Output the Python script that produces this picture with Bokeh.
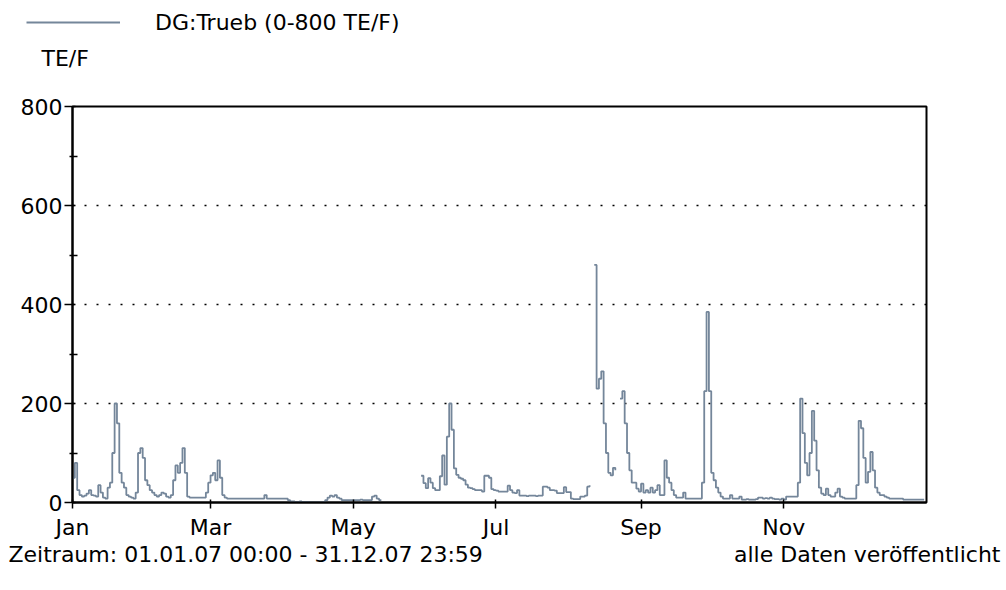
from bokeh.plotting import figure
from bokeh.layouts import column, row
from bokeh.models import FixedTicker, Legend, LegendItem, Label, Range1d, ColumnDataSource
from bokeh.embed import file_html
from bokeh.resources import INLINE

# ---- data: daily turbidity values (TE/F), None = no data ----
jan = [50, 80, 25, 15, 12, 14, 18, 25, 15, 14, 12, 35, 20, 10, 8, 30, 40, 100, 200, 160,
       60, 40, 30, 15, 12, 10, 8, 20, 100, 110, 90]
feb = [45, 35, 25, 20, 15, 12, 15, 20, 18, 12, 10, 15, 45, 75, 60, 80, 110, 60, 12, 10,
       10, 10, 10, 10, 10, 10, 20, 40]
mar = [55, 60, 45, 85, 50, 15, 10, 8, 8, 8, 8, 8, 8, 8, 8, 8, 8, 8, 8, 8,
       8, 8, 8, 15, 8, 8, 8, 8, 8, 8, 8]
apr = [8, 8, 5, 2, 2, 1, 1, 2, 1, 1, 1, 0, 0, 0, 0, 0, 0, 1, 5, 10,
       14, 12, 15, 10, 8, 5, 5, 5, 5, 5]
may = [5, 5, 5, 6, 5, 5, 5, 5, 12, 14, 8, 5, 5, None, None, None, None, None, None, None,
       None, None, None, None, None, None, None, None, None, 54, 39]
jun = [29, 49, 40, 29, 25, 25, 53, 95, 36, 133, 200, 147, 69, 56, 50, 48, 45, 36, 30, 29,
       27, 25, 25, 25, 22, 54, 54, 50, 27, 25]
jul = [24, 22, 22, 22, 22, 34, 25, 20, 19, 25, 14, 14, 14, 13, 14, 14, 14, 13, 14, 14,
       32, 32, 30, 25, 25, 24, 19, 19, 19, 31, 21]
aug = [21, 8, 7, 7, 7, 12, 12, 14, 32, 35, None, 480, 230, 250, 265, 160, 100, 60, 55, 70,
       65, None, 210, 225, 160, 100, 65, 40, 40, 28, 22]
sep = [38, 20, 25, 20, 30, 20, 25, 35, 15, 15, 85, 50, 40, 25, 15, 10, 10, 10, 20, 8,
       8, 8, 8, 8, 8, 8, 40, 225, 385, 225]
oct_ = [60, 45, 30, 20, 12, 8, 8, 8, 15, 8, 8, 8, 12, 6, 6, 7, 6, 6, 6, 7,
        10, 10, 8, 9, 8, 10, 8, 7, 7, 6, 8]
nov = [6, 12, 12, 12, 12, 12, 40, 210, 140, 80, 55, 100, 185, 125, 65, 30, 18, 15, 28, 15,
       12, 12, 20, 28, 12, 10, 8, 8, 8, 8]
dec = [8, 35, 165, 150, 90, 40, 62, 102, 65, 30, 20, 15, 15, 12, 10, 8, 8, 8, 8, 8,
       8, 6, 6, 6, 6, 6, 6, 6, 6, 6, 6]

month_days = [0, 59, 120, 181, 243, 304]          # day-of-year of tick months
month_labels = ["Jan", "Mar", "May", "Jul", "Sep", "Nov"]
y_ticks = [0, 200, 400, 600, 800]
y_minor = [100, 300, 500, 700]

series_label = "DG:Trueb (0-800 TE/F)"
unit_label = "TE/F"
period_text = "Zeitraum: 01.01.07 00:00 - 31.12.07 23:59"
status_text = "alle Daten veröffentlicht"

values = jan + feb + mar + apr + may + jun + jul + aug + sep + oct_ + nov + dec
days = list(range(len(values)))

# split into contiguous segments (gaps where no data)
segments = []
cur_x, cur_y = [], []
for d, v in zip(days, values):
    if v is None:
        if cur_x:
            segments.append((cur_x, cur_y))
        cur_x, cur_y = [], []
    else:
        cur_x.append(d)
        cur_y.append(v)
if cur_x:
    segments.append((cur_x, cur_y))

FONT = "DejaVu Sans"
FS = "22px"
LINE_COLOR = "#74869a"
W = 1006
HEAD_H = 90
FOOT_H = 50


def blank_figure(h):
    f = figure(width=W, height=h, x_range=Range1d(0, W), y_range=Range1d(h, 0),
               min_border=0, x_axis_type=None, y_axis_type=None,
               output_backend="svg", toolbar_location=None)
    f.outline_line_color = None
    f.grid.visible = False
    f.background_fill_color = "white"
    f.border_fill_color = "white"
    return f


# ---- header: legend key + unit ----
head = blank_figure(HEAD_H)
# hidden copy of the series, only used to draw the legend key
key_src = ColumnDataSource(dict(x=segments[0][0], y=segments[0][1]))
r_key = head.step("x", "y", source=key_src, mode="after", line_color=LINE_COLOR,
                  line_width=1.8, visible=False)
legend = Legend(items=[LegendItem(label=series_label, renderers=[r_key])],
                location=(26, 55), glyph_width=94, glyph_height=26, label_standoff=35,
                padding=0, margin=0, spacing=0, border_line_alpha=0, background_fill_alpha=0,
                inactive_fill_alpha=0,
                label_text_font=FONT, label_text_font_size=FS, label_text_color="black")
head.add_layout(legend)
head.add_layout(Label(x=41, y=58, text=unit_label, text_font=FONT, text_font_size=FS,
                      text_align="left", text_baseline="middle", text_color="black"))

# ---- main chart ----
p = figure(frame_width=854, frame_height=396,
           min_border_left=72, min_border_top=16, min_border_right=80, min_border_bottom=38,
           x_range=Range1d(0, 365), y_range=Range1d(0, 800),
           output_backend="svg", toolbar_location=None)
p.background_fill_color = "white"
p.border_fill_color = "white"
p.outline_line_color = "black"
p.outline_line_width = 2

for sx, sy in segments:
    src = ColumnDataSource(dict(x=sx, y=sy))
    p.step("x", "y", source=src, mode="after", line_color=LINE_COLOR, line_width=1.8)

p.yaxis.ticker = FixedTicker(ticks=y_ticks, minor_ticks=y_minor)
p.xaxis.ticker = FixedTicker(ticks=month_days)
p.xaxis.major_label_overrides = {d: l for d, l in zip(month_days, month_labels)}
for ax in (p.xaxis, p.yaxis):
    ax.axis_line_color = "black"
    ax.axis_line_width = 2
    ax.major_tick_line_color = "black"
    ax.major_tick_line_width = 1.5
    ax.major_label_text_font = FONT
    ax.major_label_text_font_size = FS
    ax.major_label_text_color = "black"
p.yaxis.major_tick_out = 8
p.yaxis.major_tick_in = 3
p.yaxis.minor_tick_out = 3
p.yaxis.minor_tick_in = 5
p.yaxis.minor_tick_line_color = "black"
p.yaxis.minor_tick_line_width = 1.5
p.yaxis.major_label_standoff = 2
p.xaxis.major_tick_out = 6
p.xaxis.major_tick_in = 3
p.xaxis.minor_tick_line_color = None
p.xaxis.major_label_standoff = 6

p.xgrid.visible = False
p.ygrid.grid_line_color = "black"
p.ygrid.grid_line_dash = "2 10"
p.ygrid.grid_line_width = 1.5

# ---- footer: period + status ----
foot = blank_figure(FOOT_H)
foot.add_layout(Label(x=8, y=12, text=period_text, text_font=FONT, text_font_size=FS,
                      text_align="left", text_baseline="middle", text_color="black"))
foot.add_layout(Label(x=1000, y=12, text=status_text, text_font=FONT, text_font_size=FS,
                      text_align="right", text_baseline="middle", text_color="black"))

layout = column(row(head), p, row(foot), spacing=0)
open("out.html", "w").write(file_html(layout, INLINE))
